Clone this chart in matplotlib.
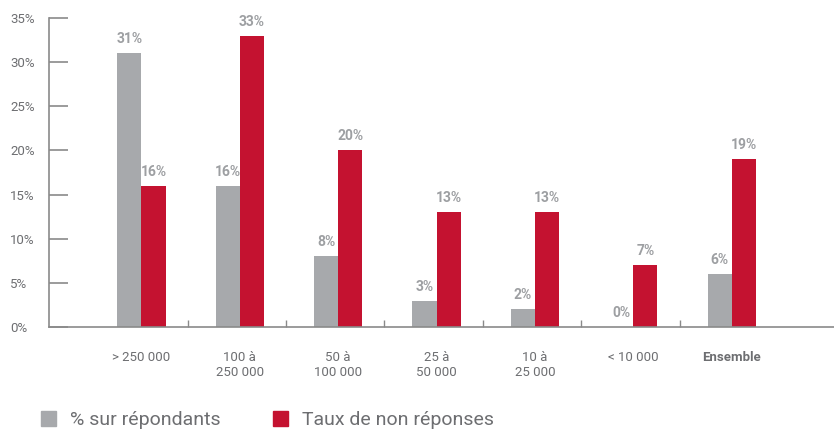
import matplotlib
matplotlib.use("Agg")
import matplotlib.pyplot as plt
import matplotlib.ticker as ticker
from matplotlib.patches import Patch
import numpy as np

# ---- data ----
categories = ["> 250 000", "100 à\n250 000", "50 à\n100 000", "25 à\n50 000",
              "10 à\n25 000", "< 10 000", "Ensemble"]
repondants = [31, 16, 8, 3, 2, 0, 6]
non_reponses = [16, 33, 20, 13, 13, 7, 19]
y_ticks = [0, 5, 10, 15, 20, 25, 30, 35]

GREY = '#a7a9ac'
RED = '#c41230'
TXT = '#6d6e71'
AXC = '#8a8a8a'

plt.rcParams['font.family'] = ['Roboto', 'DejaVu Sans']

fig = plt.figure(figsize=(8.34, 4.30), dpi=100)
ax = fig.add_axes([49 / 834, 103 / 430, 1 - 49 / 834, 309 / 430])

x = np.arange(len(categories))
w = 0.245
b1 = ax.bar(x - w / 2, repondants, w, color=GREY)
b2 = ax.bar(x + w / 2, non_reponses, w, color=RED)

for bars, vals in ((b1, repondants), (b2, non_reponses)):
    for r, v in zip(bars, vals):
        ax.annotate(f"{v}%", (r.get_x() + r.get_width() / 2, v),
                    xytext=(0, 5), textcoords='offset points',
                    ha='center', va='bottom', fontsize=10, fontweight='bold',
                    color='#9d9fa2')

ax.set_xlim(-0.94, 7.04)
ax.set_ylim(0, 35)

for s in ('top', 'right'):
    ax.spines[s].set_visible(False)
for s in ('left', 'bottom'):
    ax.spines[s].set_color(AXC)
    ax.spines[s].set_linewidth(1.2)

# y axis: long inward ticks, labels left-aligned at the figure edge
ax.set_yticks(y_ticks)
ax.yaxis.set_major_formatter(ticker.FuncFormatter(lambda v, _: f"{int(v)}%"))
ax.tick_params(axis='y', direction='in', length=14, width=1.2, color=AXC,
               labelsize=9.5, labelcolor=TXT, pad=28)
for lab in ax.get_yticklabels():
    lab.set_horizontalalignment('left')

# x axis: labels without ticks, small separators between groups
ax.set_xticks(x)
ax.set_xticklabels(categories)
ax.tick_params(axis='x', which='major', length=0, pad=17,
               labelsize=9.5, labelcolor=TXT)
ax.set_xticks(x[:-1] + 0.47, minor=True)
ax.tick_params(axis='x', which='minor', direction='in', length=5, width=1,
               color=AXC)
ax.get_xticklabels()[-1].set_fontweight('bold')
for lab in ax.get_xticklabels():
    lab.set_linespacing(1.2)

handles = [Patch(color=GREY), Patch(color=RED)]
leg = fig.legend(handles, ["% sur répondants", "Taux de non réponses"],
                 loc='lower left', bbox_to_anchor=(23 / 834, -0.038), ncol=2,
                 frameon=False, fontsize=14, handlelength=0.8, handleheight=0.8,
                 handletextpad=0.7, columnspacing=2.7)
for t in leg.get_texts():
    t.set_color(TXT)

fig.savefig('out.png', dpi=100)
